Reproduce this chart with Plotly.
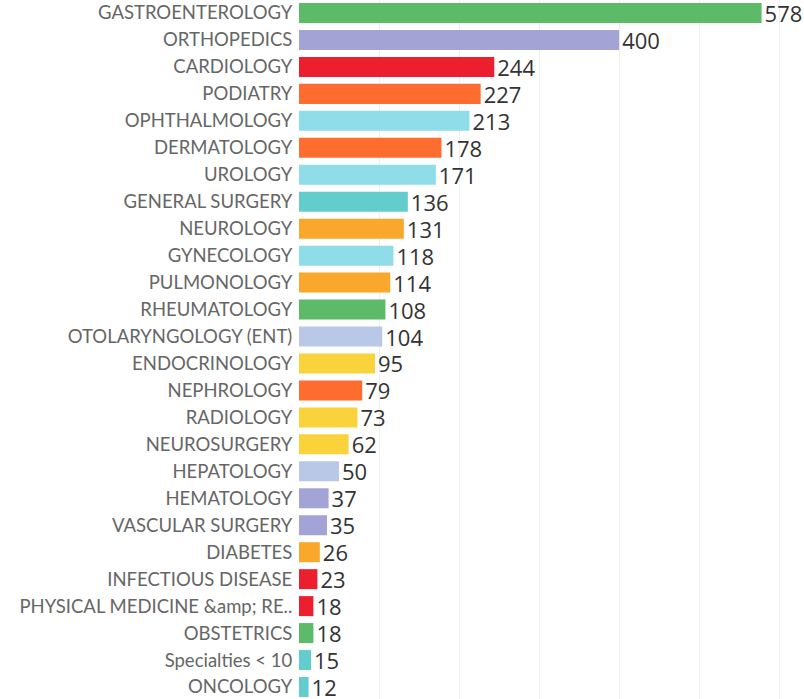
import plotly.graph_objects as go

categories = [
    "GASTROENTEROLOGY", "ORTHOPEDICS", "CARDIOLOGY", "PODIATRY", "OPHTHALMOLOGY",
    "DERMATOLOGY", "UROLOGY", "GENERAL SURGERY", "NEUROLOGY", "GYNECOLOGY",
    "PULMONOLOGY", "RHEUMATOLOGY", "OTOLARYNGOLOGY (ENT)", "ENDOCRINOLOGY",
    "NEPHROLOGY", "RADIOLOGY", "NEUROSURGERY", "HEPATOLOGY", "HEMATOLOGY",
    "VASCULAR SURGERY", "DIABETES", "INFECTIOUS DISEASE",
    "PHYSICAL MEDICINE &amp; RE..", "OBSTETRICS", "Specialties < 10", "ONCOLOGY",
]
values = [578, 400, 244, 227, 213, 178, 171, 136, 131, 118, 114, 108, 104, 95,
          79, 73, 62, 50, 37, 35, 26, 23, 18, 18, 15, 12]

GREEN = "#5dba68"
LAV = "#a4a3d5"
RED = "#ec1f2e"
ORANGE = "#fe6d2f"
CYAN = "#8fdde9"
TEAL = "#62cdcc"
AMBER = "#f9a82b"
YELLOW = "#fad23b"
LBLUE = "#b8c8e6"

colors = [GREEN, LAV, RED, ORANGE, CYAN, ORANGE, CYAN, TEAL, AMBER, CYAN,
          AMBER, GREEN, LBLUE, YELLOW, ORANGE, YELLOW, YELLOW, LBLUE, LAV,
          LAV, AMBER, RED, RED, GREEN, TEAL, TEAL]

ticktext = [c.replace("&", "&amp;").replace("<", "&lt;") for c in categories]

fig = go.Figure(go.Bar(
    x=values,
    y=categories,
    orientation="h",
    marker=dict(color=colors, line=dict(width=0)),
    text=[str(v) for v in values],
    textposition="outside",
    constraintext="none",
    textfont=dict(family="Open Sans, Lato, sans-serif", size=22, color="#333333"),
    cliponaxis=False,
    hoverinfo="x+y",
))

fig.update_layout(
    template="none",
    width=804,
    height=699,
    margin=dict(l=299, r=0, t=0, b=0, autoexpand=False),
    paper_bgcolor="white",
    plot_bgcolor="white",
    bargap=0.258,
    showlegend=False,
    xaxis=dict(
        range=[0, 631],
        automargin=False,
        showgrid=True,
        gridcolor="#efefef",
        gridwidth=1,
        dtick=100,
        tick0=0,
        zeroline=False,
        showticklabels=False,
        showline=False,
        ticks="",
    ),
    yaxis=dict(
        range=[25.445, -0.482],
        automargin=False,
        tickmode="array",
        tickvals=categories,
        ticktext=ticktext,
        tickfont=dict(family="Lato, Open Sans, sans-serif", size=18.5, color="#666666"),
        ticks="outside",
        ticklen=2,
        tickcolor="rgba(0,0,0,0)",
        showline=False,
        showgrid=False,
        zeroline=False,
    ),
)

fig.write_html(
    "out.html",
    config={"displayModeBar": False},
    post_script="document.body.style.margin='0';document.body.style.overflow='hidden';",
)
